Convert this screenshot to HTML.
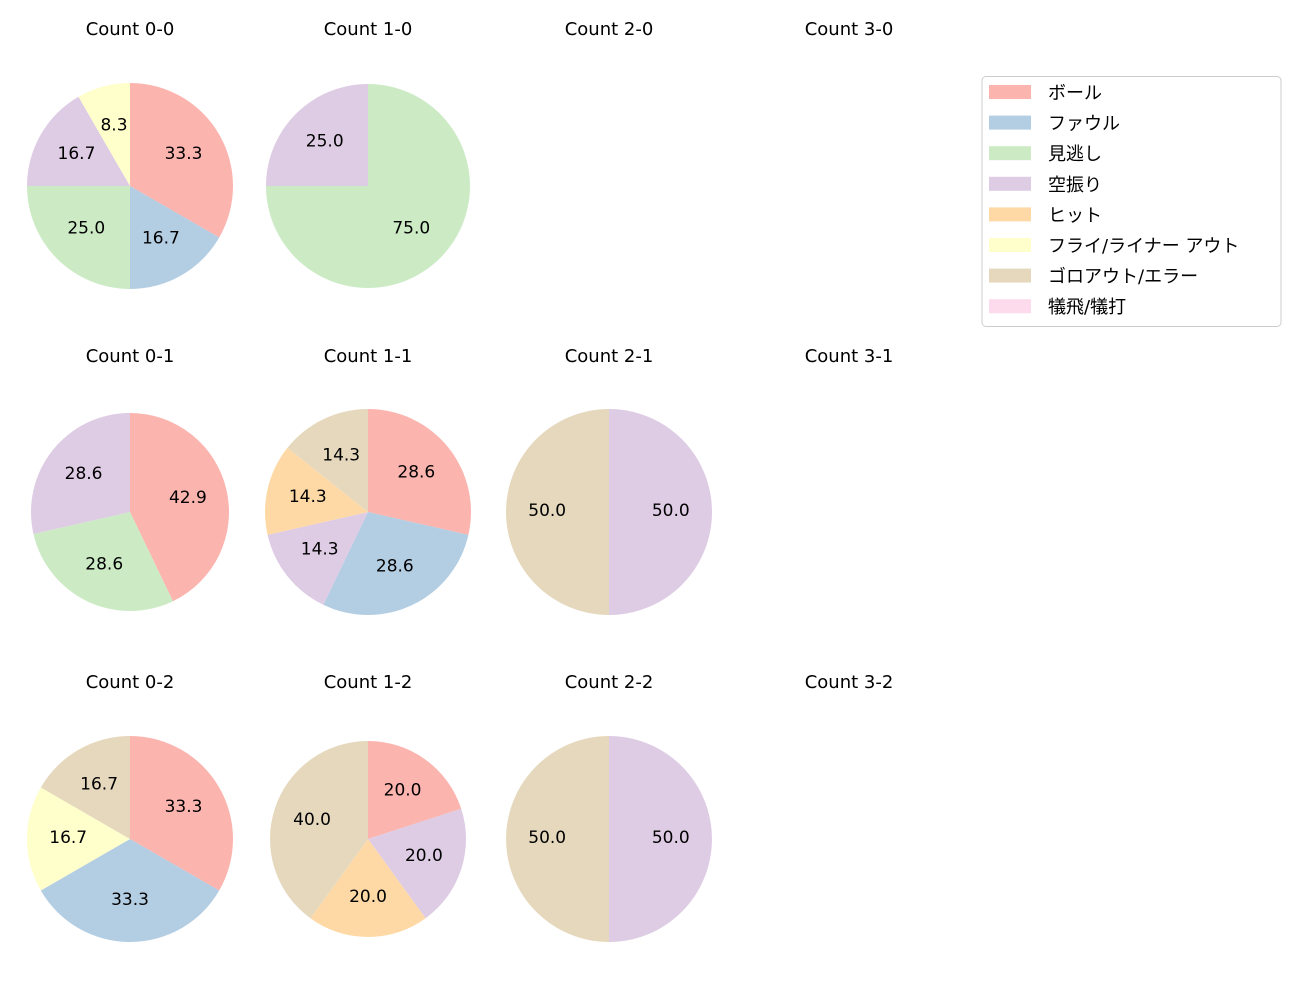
<!DOCTYPE html>
<html><head><meta charset="utf-8"><style>
body{margin:0;background:#fff;}
svg{font-family:"DejaVu Sans","Noto Sans CJK JP",sans-serif;}
</style></head><body>
<svg id="chart" width="1300" height="1000" xmlns="http://www.w3.org/2000/svg">
<rect width="1300" height="1000" fill="#fff"/>
<g id="pies"></g>
<g id="legend"></g>
</svg>
<script>
const categories = ["ボール","ファウル","見逃し","空振り","ヒット","フライ/ライナー アウト","ゴロアウト/エラー","犠飛/犠打"];
const colors = ["#fbb4ae","#b3cde3","#ccebc5","#decbe4","#fed9a6","#ffffcc","#e5d8bd","#fddaec"];
const panelTitles = ["Count 0-0","Count 1-0","Count 2-0","Count 3-0","Count 0-1","Count 1-1","Count 2-1","Count 3-1","Count 0-2","Count 1-2","Count 2-2","Count 3-2"];
const count00 = [4,2,3,2,0,1,0,0];
const count10 = [0,0,3,1,0,0,0,0];
const count20 = [0,0,0,0,0,0,0,0];
const count30 = [0,0,0,0,0,0,0,0];
const count01 = [3,0,2,2,0,0,0,0];
const count11 = [2,2,0,1,1,0,1,0];
const count21 = [0,0,0,1,0,0,1,0];
const count31 = [0,0,0,0,0,0,0,0];
const count02 = [2,2,0,0,0,1,1,0];
const count12 = [1,0,0,1,1,0,2,0];
const count22 = [0,0,0,1,0,0,1,0];
const count32 = [0,0,0,0,0,0,0,0];
const panelValues = [count00,count10,count20,count30,count01,count11,count21,count31,count02,count12,count22,count32];

const NS="http://www.w3.org/2000/svg";
const colX=[130,368,609,849], titleY=[29,356,682], centerY=[186,512,839];
const radii=[103,102,103,103,99,103,103,103,103,98,103,103];
const pies=document.getElementById('pies');
function mk(t,a){const e=document.createElementNS(NS,t);for(const k in a)e.setAttribute(k,a[k]);return e;}
panelValues.forEach((vals,i)=>{
  const cx=colX[i%4], cy=centerY[Math.floor(i/4)], r=radii[i];
  const g=mk('g',{});
  
  
  pies.appendChild(g);
  const t=mk('text',{x:cx,y:titleY[Math.floor(i/4)]+6,'text-anchor':'middle','font-size':18,fill:'#000'});
  
  
  t.textContent=panelTitles[i]; g.appendChild(t);
  const total=vals.reduce((a,b)=>a+b,0); if(!total) return;
  let ang=90;
  vals.forEach((v,k)=>{
    if(!v) return;
    const sweep=v/total*360, a0=ang, a1=ang-sweep; ang=a1;
    const p=a=>[cx+r*Math.cos(a*Math.PI/180), cy-r*Math.sin(a*Math.PI/180)];
    let el;
    if(sweep>=359.999){el=mk('circle',{cx,cy,r,fill:colors[k]});}
    else{const [x0,y0]=p(a0),[x1,y1]=p(a1);
      el=mk('path',{d:`M${cx},${cy}L${x0},${y0}A${r},${r} 0 ${sweep>180?1:0} 1 ${x1},${y1}Z`,fill:colors[k]});}
    
    
    g.appendChild(el);
    const m=(a0+a1)/2*Math.PI/180;
    const lb=mk('text',{x:cx+0.6*r*Math.cos(m),y:cy-0.6*r*Math.sin(m)+4,'text-anchor':'middle','font-size':17,fill:'#000'});
    
    
    lb.textContent=(v/total*100).toFixed(1); g.appendChild(lb);
  });
});
const lg=document.getElementById('legend');
lg.appendChild(mk('rect',{x:982,y:76.5,width:299,height:250,rx:4,fill:'#fff',stroke:'#ccc'}));
categories.forEach((c,k)=>{
  const y=92+k*30.6;
  const sw=mk('rect',{x:989,y:y-7,width:42,height:14,fill:colors[k]});
  
  
  lg.appendChild(sw);
  const t=mk('text',{x:1048,y:y+7,'font-size':18,fill:'#000'});
  
  
  t.textContent=c; lg.appendChild(t);
});
</script>
</body></html>
